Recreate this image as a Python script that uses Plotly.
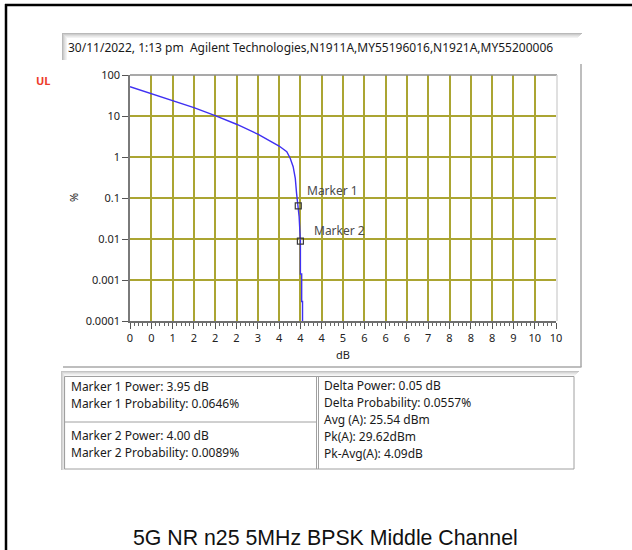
import math
import plotly.graph_objects as go

W, H = 632, 550

# CCDF trace: power above average (dB) vs probability of exceeding it (%)
ccdf_db = [0.0, 0.5, 1.0, 1.5, 2.0, 2.5, 3.0, 3.25, 3.5, 3.68, 3.76, 3.83, 3.88,
           3.91, 3.95, 3.97, 4.00, 4.00, 4.03, 4.03, 4.05, 4.05]
ccdf_pct = [52, 35, 23.6, 16, 10.2, 6.3, 3.6, 2.6, 1.85, 1.35, 0.93, 0.58, 0.30,
            0.13, 0.0646, 0.035, 0.0089, 0.0014, 0.0014, 0.0003, 0.0003, 0.0001]

# markers
marker_names = ["Marker 1", "Marker 2"]
marker_db = [3.95, 4.00]
marker_pct = [0.0646, 0.0089]

# channel power statistics
avg_dbm = 25.54
pk_dbm = 29.62
pk_avg_db = 4.09

# axis ticks
x_tickvals = [0, 0.5, 1, 1.5, 2, 2.5, 3, 3.5, 4, 4.5, 5, 5.5, 6, 6.5, 7, 7.5, 8, 8.5, 9, 9.5, 10]
x_ticktext = ["0", "0", "1", "2", "2", "2", "3", "4", "4", "4", "5",
              "6", "6", "6", "7", "8", "8", "8", "9", "10", "10"]
y_tickvals = [0.0001, 0.001, 0.01, 0.1, 1, 10, 100]
y_ticktext = ["0.0001", "0.001", "0.01", "0.1", "1", "10", "100"]

header = "30/11/2022, 1:13 pm\u00a0 Agilent Technologies,N1911A,MY55196016,N1921A,MY55200006"
caption = "5G NR n25 5MHz BPSK Middle Channel"

UI_FONT = "Noto Sans"
GRID = "#aba532"
CURVE = "#3f30f2"

# plot-area box in pixels
PX0, PX1, PY0, PY1 = 130, 556, 75, 321


def fx(px):
    return px / W


def fy(py):
    return 1 - py / H


fig = go.Figure()

fig.add_trace(go.Scatter(
    x=ccdf_db, y=ccdf_pct, mode="lines",
    line=dict(color=CURVE, width=1.4), hoverinfo="skip", showlegend=False,
))
fig.add_trace(go.Scatter(
    x=marker_db, y=marker_pct, mode="markers",
    marker=dict(symbol="square-open", size=6, color="#3a3a3a", line=dict(width=1.2)),
    hoverinfo="skip", showlegend=False,
))

shapes = []


def hline(x0, x1, y, color, w=1):
    shapes.append(dict(type="line", xref="paper", yref="paper",
                       x0=fx(x0), x1=fx(x1), y0=fy(y), y1=fy(y),
                       line=dict(color=color, width=w)))


def vline(x, y0, y1, color, w=1):
    shapes.append(dict(type="line", xref="paper", yref="paper",
                       x0=fx(x), x1=fx(x), y0=fy(y0), y1=fy(y1),
                       line=dict(color=color, width=w)))


# outer page frame
hline(5, 632, 5, "#000000", 2.5)
vline(6, 4, 550, "#000000", 2.5)

# header box shading (sunken look)
for i, c in enumerate(["#b9b9b9", "#cdcdcd", "#dcdcdc", "#e8e8e8", "#f2f2f2"]):
    hline(62 + i, 582 - i, 33.5 + i, c, 1)
    vline(62.5 + i, 33 + i, 60, c, 1)

# chart panel right / bottom edges
vline(581, 64, 367, "#a8a8a8", 1.5)
hline(63, 581.5, 367, "#a8a8a8", 1.5)

# plot frame: top and right edges
hline(PX0, PX1 + 1, PY0, "#8c8c8c", 1.5)
vline(PX1 + 1, PY0, PY1, "#d6d6d6", 1.5)

# table shading and cell borders
for i, c in enumerate(["#c4c4c4", "#d6d6d6", "#e4e4e4", "#efefef", "#f7f7f7"]):
    hline(61 + i, 579 - i, 371.5 + i, c, 1)
    vline(61.5 + i, 371 + i, 470, c, 1)
BORDER = "#a0a0a0"
shapes.append(dict(type="rect", xref="paper", yref="paper",
                   x0=fx(64.5), x1=fx(574), y0=fy(376.5), y1=fy(469),
                   line=dict(color=BORDER, width=1)))
vline(316.5, 376.5, 469, BORDER, 1)
vline(318.5, 376.5, 469, BORDER, 1)
hline(64.5, 316.5, 422, BORDER, 1)

annotations = []


def text(x, y, s, size=12, color="#1a1a1a", anchor="left", family=UI_FONT, **kw):
    annotations.append(dict(xref="paper", yref="paper", x=fx(x), y=fy(y), text=s,
                            showarrow=False, xanchor=anchor, yanchor="middle",
                            font=dict(family=family, size=size, color=color), **kw))


text(66, 47, header, size=12)
text(43, 80, "<b>UL</b>", size=11, color="#ee3b2a", anchor="center")
text(73, 198, "%", size=11, color="#222222", anchor="center", textangle=-90)
text(343, 354, "dB", size=11, color="#222222", anchor="center")

# marker labels next to their points
label_shift = {"Marker 1": (7, 15), "Marker 2": (12, 11)}
for name, d, p in zip(marker_names, marker_db, marker_pct):
    dx, dy = label_shift[name]
    annotations.append(dict(xref="x", yref="y", x=d, y=math.log10(p),
                            text=name, showarrow=False, xanchor="left", yanchor="middle",
                            xshift=dx, yshift=dy,
                            font=dict(family=UI_FONT, size=12, color="#4a4a4a")))

# statistics table
delta_db = marker_db[1] - marker_db[0]
delta_pct = marker_pct[0] - marker_pct[1]
left_rows = [
    (386, f"{marker_names[0]} Power: {marker_db[0]:.2f} dB"),
    (403, f"{marker_names[0]} Probability: {marker_pct[0]:.4f}%"),
    (435, f"{marker_names[1]} Power: {marker_db[1]:.2f} dB"),
    (452, f"{marker_names[1]} Probability: {marker_pct[1]:.4f}%"),
]
right_rows = [
    (385, f"Delta Power: {delta_db:.2f} dB"),
    (402, f"Delta Probability: {delta_pct:.4f}%"),
    (419, f"Avg (A): {avg_dbm:.2f} dBm"),
    (436, f"Pk(A): {pk_dbm:.2f}dBm"),
    (453, f"Pk-Avg(A): {pk_avg_db:.2f}dB"),
]
for y, s in left_rows:
    text(69, y, s)
for y, s in right_rows:
    text(322, y, s)

text(325, 538, caption, size=21.3, color="#111111", anchor="center", family="Liberation Sans")

tickfont = dict(family=UI_FONT, size=11, color="#222222")
fig.update_layout(
    width=W, height=H, autosize=False,
    margin=dict(l=0, r=0, t=0, b=0),
    paper_bgcolor="white", plot_bgcolor="white",
    shapes=shapes, annotations=annotations,
    xaxis=dict(
        domain=[fx(PX0), fx(PX1)], range=[0, 10], automargin=False,
        tickmode="array", tickvals=x_tickvals, ticktext=x_ticktext,
        ticks="outside", ticklen=6, tickwidth=1, tickcolor="#555555",
        showgrid=True, gridcolor=GRID, gridwidth=1.5,
        showline=True, linecolor="#6e6e6e", linewidth=1.5,
        zeroline=False, tickfont=tickfont,
        minor=dict(ticks="outside", ticklen=3, tickcolor="#666666", tickwidth=1,
                   tickmode="linear", tick0=0, dtick=0.1, showgrid=False),
    ),
    yaxis=dict(
        domain=[fy(PY1), fy(PY0)], type="log", range=[-4, 2], automargin=False,
        tickmode="array", tickvals=y_tickvals, ticktext=y_ticktext,
        ticks="outside", ticklen=6, tickwidth=1, tickcolor="#555555",
        showgrid=True, gridcolor=GRID, gridwidth=1.5,
        showline=True, linecolor="#7a7a7a", linewidth=1.5,
        zeroline=False, tickfont=tickfont,
    ),
)

fig.write_html("out.html")
